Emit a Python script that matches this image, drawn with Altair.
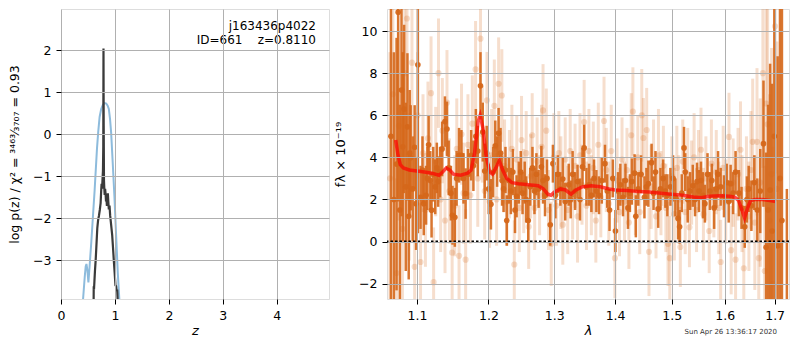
import altair as alt
import pandas as pd

FONT = "DejaVu Sans"
ORANGE = "#d5671a"

# ---------------- left panel: log p(z) ----------------
z_chi = [0.405, 0.44, 0.458, 0.472, 0.49, 0.508, 0.53, 0.563, 0.595, 0.624, 0.647, 0.667,
         0.69, 0.716, 0.745, 0.777, 0.81, 0.839, 0.865, 0.887, 0.91, 0.93, 0.961, 0.991,
         1.022, 1.053, 1.085]
logp_chi = [-4.0, -3.4, -3.15, -3.09, -3.25, -3.53, -3.15, -2.55, -1.9, -1.33, -0.8, -0.35,
            0.05, 0.41, 0.6, 0.70, 0.74, 0.73, 0.68, 0.6, 0.35, 0.03, -0.73, -1.49,
            -2.4, -3.3, -4.0]

z_pz = [0.605, 0.607, 0.612, 0.62, 0.63, 0.643, 0.655, 0.673, 0.688, 0.704, 0.72, 0.735,
        0.745, 0.753, 0.762, 0.771, 0.778, 0.784, 0.788, 0.792, 0.797, 0.802, 0.81, 0.818,
        0.826, 0.835, 0.842, 0.851, 0.86, 0.869, 0.877, 0.887, 0.9, 0.912, 0.925, 0.937,
        0.949, 0.962, 0.979, 0.995, 1.01, 1.022, 1.033, 1.042, 1.053]
logp_pz = [-4.0, -3.62, -3.7, -3.5, -3.25, -3.0, -2.7, -2.24, -2.05, -1.94, -1.8, -1.64,
           -1.35, -1.18, -1.3, -1.05, -0.88, -0.3, 2.04, 0.2, -1.1, -1.26, -1.45, -1.3,
           -1.41, -1.6, -1.5, -1.71, -1.55, -1.41, -1.6, -1.79, -1.7, -1.94, -2.1, -2.25,
           -2.4, -2.65, -3.0, -3.3, -3.6, -3.62, -3.75, -3.7, -4.0]

xticks_left = [0, 1, 2, 3, 4]
yticks_left = [-3, -2, -1, 0, 1, 2]

# ---------------- right panel: spectrum ----------------
wave_dark = [1.0658, 1.0696, 1.0731, 1.0752, 1.0774, 1.0796, 1.0813, 1.0830, 1.0852, 1.0874,
             1.0891, 1.0904, 1.0917, 1.0944, 1.0970, 1.0989, 1.1013, 1.1049, 1.1075, 1.1092,
             1.1124, 1.1141, 1.1158, 1.1181, 1.1198, 1.1221, 1.1248, 1.1270, 1.1288, 1.1315,
             1.1343, 1.1382, 1.1410, 1.1434, 1.1465, 1.1487, 1.1520, 1.1545, 1.1579, 1.1612,
             1.1642, 1.1672, 1.1705, 1.1751, 1.1783, 1.1818, 1.1846, 1.1885, 1.1918, 1.1946,
             1.1975, 1.2004, 1.2037, 1.2070, 1.2101, 1.2128, 1.2150, 1.2179, 1.2201, 1.2223,
             1.2252, 1.2271, 1.2304, 1.2333, 1.2363, 1.2395, 1.2419, 1.2452, 1.2482, 1.2509,
             1.2542, 1.2565, 1.2596, 1.2626, 1.2661, 1.2692, 1.2722, 1.2756, 1.2799, 1.2825,
             1.2856, 1.2887, 1.2938, 1.2980, 1.3019, 1.3058, 1.3098, 1.3137, 1.3176, 1.3232,
             1.3264, 1.3295, 1.3335, 1.3375, 1.3415, 1.3456, 1.3483, 1.3521, 1.3564, 1.3602,
             1.3646, 1.3685, 1.3729, 1.3776, 1.3829, 1.3867, 1.3906, 1.3962, 1.4006, 1.4051,
             1.4090, 1.4136, 1.4178, 1.4221, 1.4255, 1.4289, 1.4336, 1.4358, 1.4401, 1.4450,
             1.4509, 1.4544, 1.4579, 1.4636, 1.4671, 1.4706, 1.4754, 1.4795, 1.4843, 1.4884,
             1.4920, 1.4975, 1.5024, 1.5066, 1.5115, 1.5144, 1.5184, 1.5225, 1.5248, 1.5294,
             1.5339, 1.5388, 1.5431, 1.5468, 1.5506, 1.5543, 1.5580, 1.5617, 1.5667, 1.5712,
             1.5750, 1.5794, 1.5835, 1.5869, 1.5920, 1.5984, 1.6037, 1.6076, 1.6114, 1.6163,
             1.6211, 1.6276, 1.6329, 1.6393, 1.6436, 1.6472, 1.6526, 1.6585, 1.6645, 1.6705,
             1.6771, 1.6825, 1.6866, 1.6907, 1.6947, 1.6994, 1.7063, 1.7111, 1.7152, 1.7255]
flux_dark = [5.0, 2.0, 3.68, 10.9, 1.5, 7.2, 4.5, 6.3, 2.6, 5.45,
             1.2, 4.2, 3.98, 2.5, 4.48, 1.8, 8.4, 2.1, 3.4, 1.8,
             2.2, 3.0, 4.6, 2.9, 1.49, 3.2, 2.6, 3.5, 2.85, 3.3,
             4.4, 5.7, 5.35, 3.5, 2.3, 1.25, 1.15, 3.0, 4.1, 4.1,
             3.0, 2.28, 3.2, 4.1, 3.6, 5.0, 4.3, 7.4, 5.2, 3.35,
             4.2, 2.5, 1.77, 3.3, 4.55, 3.8, 5.15, 4.2, 2.9, 2.5,
             3.4, 1.0, 2.9, 2.4, 3.3, 1.5, 2.15, 2.8, 3.3, 2.3,
             2.8, 2.0, 1.0, 2.6, 3.5, 2.4, 3.2, 2.5, 3.55, 2.9,
             2.2, 3.0, 0.8, 3.7, 2.2, 3.2, 2.5, 2.97, 1.9, 2.7,
             2.0, 3.2, 2.4, 2.85, 2.0, 3.55, 4.45, 2.6, 2.7, 2.2,
             3.0, 2.4, 2.2, 2.9, 3.7, 2.4, 1.5, 3.0, 0.5, 2.4,
             2.7, 2.1, 2.9, 1.6, 2.3, 2.85, 3.25, 1.2, 2.5, 3.2,
             2.1, 2.6, 2.75, 3.75, 2.3, 3.3, 1.55, 2.5, 3.0, 2.4,
             2.2, 2.6, 3.0, 2.1, 1.1, 0.7, 2.3, 4.45, 3.3, 2.0,
             2.4, 2.65, 2.0, 2.85, 2.4, 2.9, 2.2, 1.8, 3.2, 2.4,
             2.9, 1.6, 2.5, 3.2, 2.6, 2.15, 2.8, 1.9, 2.75, 2.3,
             3.3, 2.3, 1.6, 0.7, 2.0, 2.5, 1.7, 2.8, 1.5, 2.4,
             4.65, -0.27, 1.5, 2.45, 0.5, 5.0, -0.2, 3.0, 1.0, -3.5]
err_dark = [8.5, 7.0, 6.0, 9.0, 5.0, 6.0, 4.5, 4.0, 4.0, 3.5,
            3.0, 3.0, 2.5, 2.5, 2.0, 2.2, 8.0, 1.5, 1.6, 1.5,
            1.4, 1.5, 1.4, 1.4, 1.3, 1.3, 1.3, 1.2, 1.2, 1.2,
            1.3, 1.2, 1.3, 1.3, 1.3, 1.4, 1.4, 1.3, 1.3, 1.2,
            1.2, 1.2, 1.2, 1.2, 1.2, 1.3, 1.2, 1.6, 1.4, 1.3,
            1.3, 1.2, 1.2, 1.2, 1.2, 1.2, 1.2, 1.2, 1.2, 1.1,
            1.1, 1.2, 1.1, 1.1, 1.1, 1.1, 1.0, 1.0, 1.0, 1.0,
            1.0, 1.1, 1.0, 0.9, 1.0, 1.1, 1.0, 0.9, 1.0, 1.1,
            1.0, 0.9, 1.0, 0.9, 1.1, 0.9, 0.8, 1.0, 0.9, 1.0,
            0.9, 1.1, 0.9, 0.8, 1.0, 0.9, 1.1, 0.9, 1.0, 0.8,
            0.9, 1.0, 0.9, 1.1, 0.9, 0.8, 1.0, 0.9, 1.0, 0.9,
            1.0, 0.9, 0.8, 1.0, 0.9, 1.1, 0.9, 1.0, 0.8, 0.9,
            1.0, 0.9, 1.1, 0.9, 0.8, 1.0, 0.9, 1.0, 0.9, 0.8,
            1.0, 0.9, 1.1, 0.9, 1.0, 0.8, 0.9, 1.0, 0.9, 1.1,
            0.9, 1.0, 0.8, 0.9, 1.0, 0.9, 1.1, 0.9, 1.0, 0.9,
            0.8, 1.0, 0.9, 1.1, 0.9, 1.0, 0.9, 1.0, 0.9, 1.0,
            1.0, 1.1, 1.0, 1.0, 1.1, 1.1, 1.2, 1.3, 1.5, 2.0,
            3.0, 4.5, 5.0, 6.0, 7.0, 8.0, 9.0, 12.0, 12.0, 6.0]

wave_light = [1.0645, 1.0683, 1.0731, 1.0761, 1.0808, 1.0839, 1.0868, 1.0897, 1.0934, 1.0970,
              1.1009, 1.1049, 1.1082, 1.1115, 1.1149, 1.1191, 1.1226, 1.1255, 1.1293, 1.1322,
              1.1346, 1.1383, 1.1410, 1.1444, 1.1482, 1.1519, 1.1547, 1.1579, 1.1614, 1.1642,
              1.1672, 1.1705, 1.1740, 1.1768, 1.1814, 1.1846, 1.1885, 1.1911, 1.1946, 1.1979,
              1.2017, 1.2047, 1.2087, 1.2120, 1.2150, 1.2198, 1.2238, 1.2274, 1.2311, 1.2348,
              1.2384, 1.2422, 1.2460, 1.2494, 1.2527, 1.2565, 1.2603, 1.2634, 1.2657, 1.2695,
              1.2733, 1.2771, 1.2802, 1.2825, 1.2876, 1.2910, 1.2954, 1.2995, 1.3035, 1.3074,
              1.3106, 1.3137, 1.3176, 1.3216, 1.3256, 1.3295, 1.3335, 1.3375, 1.3415, 1.3448,
              1.3483, 1.3521, 1.3561, 1.3602, 1.3634, 1.3676, 1.3717, 1.3759, 1.3813, 1.3851,
              1.3893, 1.3935, 1.3997, 1.4034, 1.4076, 1.4119, 1.4161, 1.4204, 1.4238, 1.4278,
              1.4307, 1.4350, 1.4392, 1.4427, 1.4462, 1.4491, 1.4549, 1.4590, 1.4628, 1.4671,
              1.4715, 1.4759, 1.4804, 1.4848, 1.4893, 1.4932, 1.4964, 1.5002, 1.5047, 1.5093,
              1.5129, 1.5157, 1.5202, 1.5248, 1.5294, 1.5326, 1.5367, 1.5413, 1.5459, 1.5496,
              1.5543, 1.5589, 1.5636, 1.5699, 1.5741, 1.5788, 1.5835, 1.5883, 1.5920, 1.5969,
              1.6018, 1.6082, 1.6124, 1.6163, 1.6211, 1.6260, 1.6309, 1.6339, 1.6374, 1.6427,
              1.6476, 1.6516, 1.6552, 1.6595, 1.6639, 1.6675, 1.6705, 1.6759, 1.6795, 1.6825,
              1.6856, 1.6897, 1.6937, 1.6967, 1.7008, 1.7049]
flux_light = [3.0, 7.0, -1.5, 5.5, 0.6, 8.0, 10.6, 2.6, 8.5, -1.2,
              6.0, -0.97, 4.2, 1.5, 4.9, 7.05, -1.93, 3.8, 8.0, 2.0,
              5.27, 1.0, 6.6, 2.4, -0.53, 1.7, 4.4, -0.68, 5.1, 2.3,
              -0.86, 4.6, 2.2, 5.6, 8.18, 3.0, 9.64, 5.1, 2.4, 6.71,
              1.9, 4.1, 6.45, 2.0, 7.5, 6.94, 3.6, 1.9, 3.2, 4.4,
              -1.09, 3.9, 1.6, 4.82, 2.4, 4.2, 0.7, 3.1, 5.05, 1.6,
              3.8, 2.2, 4.5, 6.23, 5.27, 1.5, -0.11, 4.0, 1.7, 4.2,
              2.8, 0.8, 3.9, 1.5, 4.3, 2.0, 3.6, 1.2, 4.1, 2.7,
              5.68, 1.7, 4.3, 2.2, 3.5, 1.0, 4.6, 2.1, 5.73, 3.4,
              1.8, 4.3, -0.79, 2.9, 1.4, 3.9, 1.9, 3.4, 0.9, 5.05,
              6.18, 2.2, 4.0, 1.4, 6.0, 4.92, 5.3, -0.49, 2.6, 3.9,
              1.2, 4.1, 2.3, 3.6, 1.6, -0.11, -0.79, 3.1, 1.3, 3.5,
              2.0, -0.26, 3.8, 1.4, 3.2, 0.68, 2.8, 4.0, 1.5, 3.4,
              4.36, 1.3, 3.0, 0.5, 3.7, 2.1, 3.3, 1.6, -0.97, 3.5,
              1.9, 4.97, -0.41, 2.8, -0.86, 3.2, 4.36, 1.8, -1.27, 2.5,
              1.2, 3.4, 4.74, 0.9, 4.74, -0.79, 2.8, 8.0, -1.4, 6.56,
              5.57, 1.0, 3.2, -2.0, 10.23, 2.5]
err_light = [6.0, 5.0, 4.5, 4.5, 4.0, 4.0, 4.0, 3.5, 3.5, 3.0,
             3.0, 2.8, 2.8, 2.7, 2.7, 2.7, 2.6, 2.6, 2.6, 2.5,
             2.5, 2.5, 2.5, 2.5, 2.5, 2.4, 2.4, 2.4, 2.4, 2.4,
             2.4, 2.4, 2.3, 2.3, 2.3, 2.3, 2.3, 2.3, 2.3, 2.3,
             2.2, 2.2, 2.2, 2.2, 2.2, 2.2, 2.2, 2.1, 2.1, 2.1,
             2.1, 2.1, 2.1, 2.1, 2.0, 2.0, 2.0, 2.0, 2.0, 2.0,
             2.1, 1.9, 2.0, 2.2, 2.0, 1.9, 2.0, 2.1, 1.9, 2.0,
             2.2, 1.9, 2.0, 2.1, 2.0, 1.9, 2.0, 2.2, 2.0, 1.9,
             2.0, 2.1, 2.0, 1.9, 2.2, 2.0, 2.0, 1.9, 2.1, 2.0,
             2.0, 2.2, 1.9, 2.0, 2.1, 2.0, 1.9, 2.0, 2.2, 2.0,
             2.1, 1.9, 2.0, 2.0, 2.2, 1.9, 2.0, 2.1, 2.0, 1.9,
             2.0, 2.2, 2.0, 1.9, 2.1, 2.0, 2.0, 1.9, 2.2, 2.0,
             2.1, 1.9, 2.0, 2.0, 2.2, 1.9, 2.0, 2.1, 2.0, 1.9,
             2.0, 2.2, 2.0, 2.0, 2.1, 1.9, 2.0, 2.2, 2.0, 2.0,
             2.0, 2.1, 2.1, 2.1, 2.2, 2.2, 2.3, 2.3, 2.4, 2.5,
             2.6, 2.8, 3.0, 3.2, 3.5, 3.5, 4.0, 4.5, 5.0, 5.0,
             5.5, 6.0, 6.0, 6.5, 7.0, 7.0]

wave_model = [1.072, 1.075, 1.078, 1.082, 1.09, 1.10, 1.11, 1.12, 1.13, 1.135, 1.14, 1.145,
              1.15, 1.16, 1.17, 1.175, 1.18, 1.185, 1.188, 1.192, 1.197, 1.202, 1.206, 1.211,
              1.216, 1.221, 1.227, 1.235, 1.245, 1.26, 1.275, 1.283, 1.29, 1.295, 1.30, 1.31,
              1.318, 1.327, 1.335, 1.345, 1.36, 1.375, 1.39, 1.40, 1.42, 1.44, 1.46, 1.48,
              1.50, 1.52, 1.54, 1.555, 1.57, 1.59, 1.61, 1.62, 1.627, 1.633, 1.639, 1.645,
              1.651, 1.66, 1.675, 1.69, 1.703]
flux_model = [4.83, 4.1, 3.65, 3.5, 3.4, 3.35, 3.3, 3.25, 3.15, 3.3, 3.5, 3.4,
              3.2, 3.15, 3.25, 3.4, 4.2, 5.7, 6.0, 5.4, 4.0, 3.3, 3.2, 3.5,
              3.85, 3.4, 3.0, 2.8, 2.75, 2.7, 2.65, 2.5, 2.25, 2.2, 2.35, 2.5,
              2.45, 2.25, 2.45, 2.6, 2.65, 2.6, 2.5, 2.45, 2.42, 2.38, 2.35, 2.3,
              2.25, 2.2, 2.12, 2.08, 2.15, 2.18, 2.15, 2.1, 1.95, 1.55, 1.12, 1.6,
              1.95, 2.0, 2.0, 1.95, 1.9]

xticks_right = [1.1, 1.2, 1.3, 1.4, 1.5, 1.6, 1.7]
yticks_right = [-2, 0, 2, 4, 6, 8, 10]

obj_name = "j163436p4022"
obj_id = "ID=661\u00a0\u00a0\u00a0\u00a0z=0.8110"
stamp = "Sun Apr 26 13:36:17 2020"

# ---------------- build ----------------
H = 290
WL = 268
WR = 402


def axis(values, fmt, title, italic=False, lp=5, tp=6, tfs=13):
    kw = dict(values=values, format=fmt, title=title, grid=True, gridColor="#b0b0b0",
              gridWidth=1, domain=False, ticks=True, tickColor="black", tickSize=5,
              tickWidth=1, labelFont=FONT, labelFontSize=12.5, labelColor="black",
              labelPadding=lp, labelFlush=False, labelOverlap=False,
              titleFont=FONT, titleFontSize=tfs, titleFontWeight="normal",
              titleColor="black", titlePadding=tp, zindex=1)
    if italic:
        kw["titleFontStyle"] = "italic"
    return alt.Axis(**kw)


xL = alt.Scale(domain=[0, 4.97], nice=False, zero=False)
yL = alt.Scale(domain=[-3.925, 2.98], nice=False, zero=False)

chi_df = pd.DataFrame({"z": z_chi, "v": logp_chi})
pz_df = pd.DataFrame({"z": z_pz, "v": logp_pz})

left_title = "log p(z) / χ² = ³⁴⁶³⁄₃₇₀₇ = 0.93"

blue = alt.Chart(chi_df).mark_line(color="#8dbbdc", strokeWidth=2, clip=True).encode(
    x=alt.X("z:Q", scale=xL, axis=axis(xticks_left, "d", "z", italic=True, lp=5, tp=3)),
    y=alt.Y("v:Q", scale=yL, axis=axis(yticks_left, "d", left_title, lp=5, tp=11, tfs=12.5)),
    order=alt.Order("z:Q"),
)
black = alt.Chart(pz_df).mark_line(color="#3a3a3a", strokeWidth=2.2, clip=True).encode(
    x="z:Q", y="v:Q", order=alt.Order("z:Q"))

t1 = alt.Chart(pd.DataFrame({"t": [obj_name]})).mark_text(
    align="right", baseline="alphabetic", font=FONT, fontSize=12, color="black").encode(
    x=alt.value(255), y=alt.value(21), text="t:N")
t2 = alt.Chart(pd.DataFrame({"t": [obj_id]})).mark_text(
    align="right", baseline="alphabetic", font=FONT, fontSize=12, color="black").encode(
    x=alt.value(255), y=alt.value(35), text="t:N")

left = alt.layer(blue, black, t1, t2).properties(width=WL, height=H)

xR = alt.Scale(type="log", domain=[1.0607, 1.730], nice=False)
yR = alt.Scale(domain=[-2.73, 11.05], nice=False, zero=False)

dark_df = pd.DataFrame({"w": wave_dark, "f": flux_dark, "e": err_dark})
dark_df["lo"] = dark_df["f"] - dark_df["e"]
dark_df["hi"] = dark_df["f"] + dark_df["e"]
light_df = pd.DataFrame({"w": wave_light, "f": flux_light, "e": err_light})
light_df["lo"] = light_df["f"] - light_df["e"]
light_df["hi"] = light_df["f"] + light_df["e"]
model_df = pd.DataFrame({"w": wave_model, "f": flux_model})

right_title = "fλ × 10⁻¹⁹"

light_bars = alt.Chart(light_df).mark_rule(color=ORANGE, opacity=0.22, strokeWidth=3, clip=True).encode(
    x=alt.X("w:Q", scale=xR, axis=axis(xticks_right, ".1f", "λ", italic=True, lp=5, tp=3)),
    y=alt.Y("lo:Q", scale=yR, axis=axis(yticks_right, "d", right_title, lp=5, tp=11)),
    y2="hi:Q",
)
light_pts = alt.Chart(light_df).mark_circle(color=ORANGE, opacity=0.22, size=38, clip=True).encode(
    x="w:Q", y="f:Q")
dark_bars = alt.Chart(dark_df).mark_rule(color=ORANGE, opacity=0.9, strokeWidth=2.5, clip=True).encode(
    x="w:Q", y="lo:Q", y2="hi:Q")
dark_pts = alt.Chart(dark_df).mark_circle(color=ORANGE, opacity=0.95, size=32, clip=True).encode(
    x="w:Q", y="f:Q")
model = alt.Chart(model_df).mark_line(color="red", opacity=0.7, strokeWidth=3.5, clip=True).encode(
    x="w:Q", y="f:Q")
zero = alt.Chart(pd.DataFrame({"y": [0]})).mark_rule(
    color="black", strokeDash=[2.5, 2], strokeWidth=2.2).encode(y="y:Q")
stamp_t = alt.Chart(pd.DataFrame({"t": [stamp]})).mark_text(
    align="right", baseline="alphabetic", font=FONT, fontSize=7, color="#333333").encode(
    x=alt.value(390), y=alt.value(H + 35), text="t:N")

right = alt.layer(light_bars, light_pts, dark_bars, dark_pts, model, zero, stamp_t).properties(
    width=WR, height=H)

chart = alt.hconcat(left, right, spacing=4).properties(
    padding={"left": 0, "top": 0, "right": 0, "bottom": 0}
).configure_view(stroke="black", strokeWidth=1).configure(font=FONT)

chart.save("out.html", embed_options={"renderer": "svg", "actions": False})
